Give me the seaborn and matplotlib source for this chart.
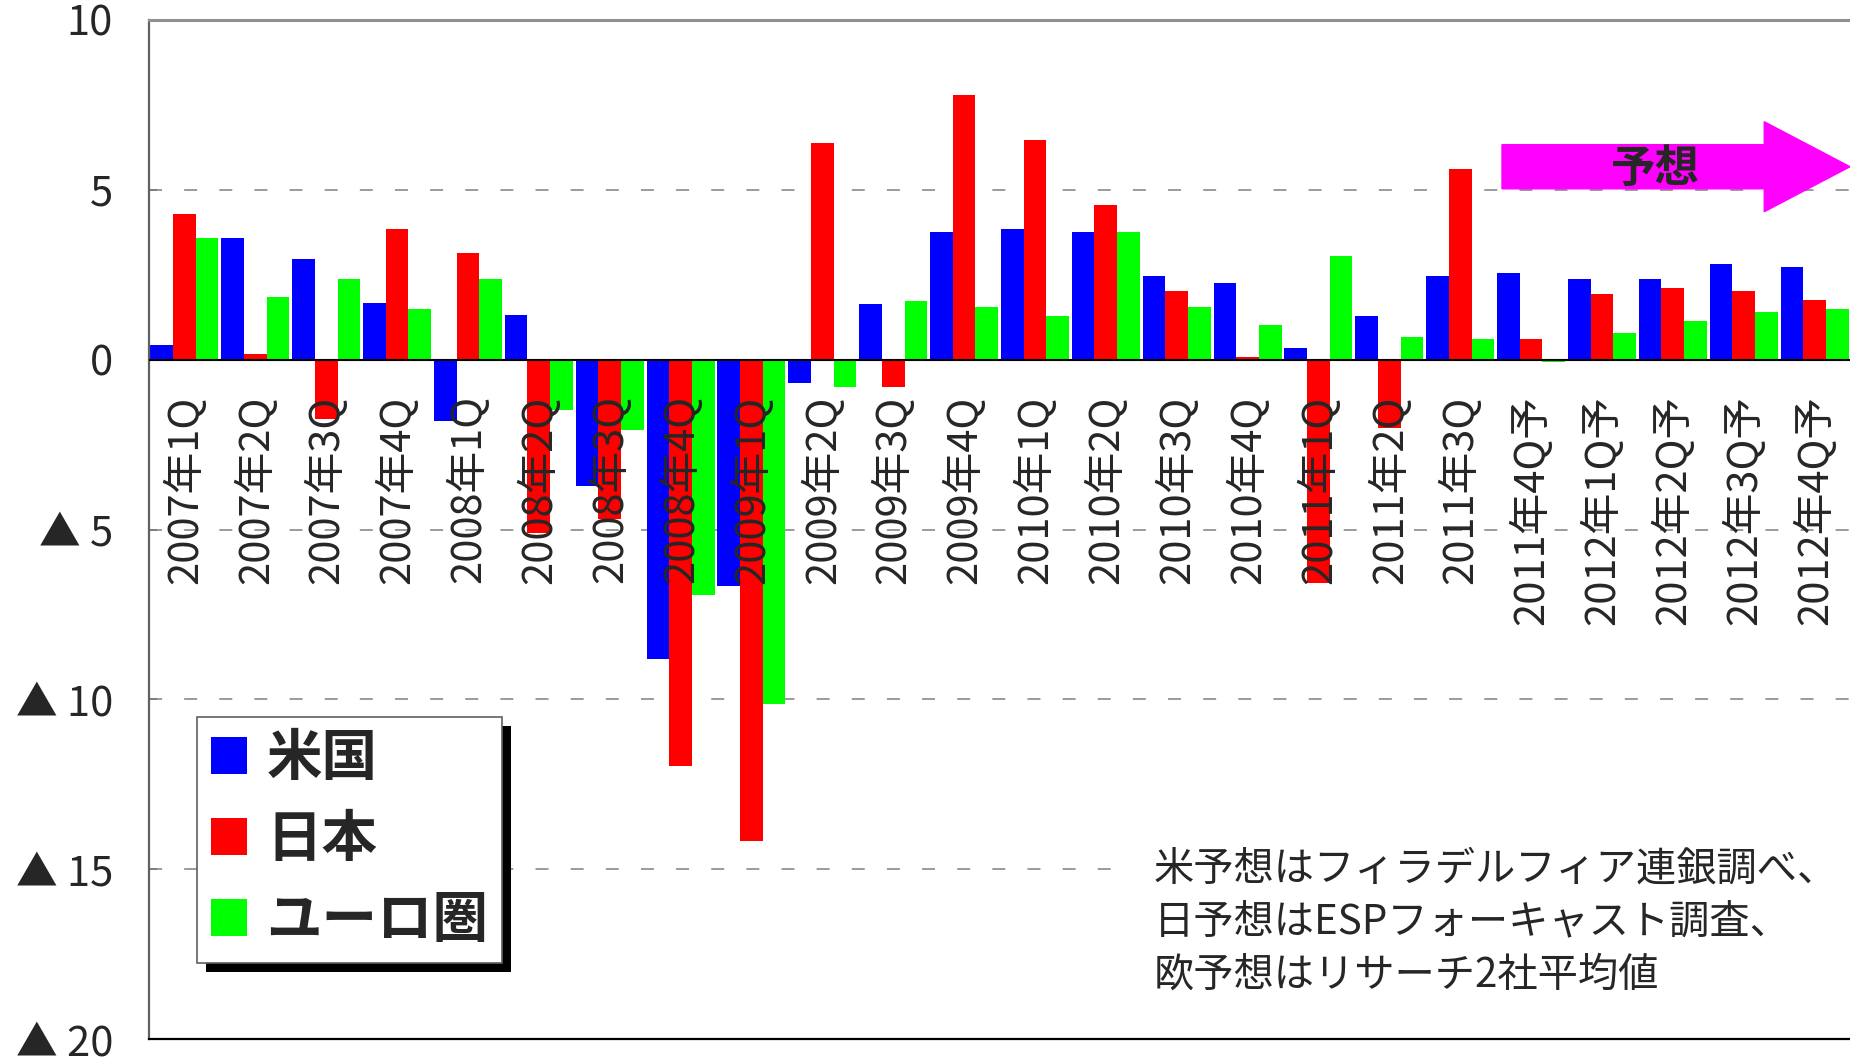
import matplotlib
matplotlib.use('Agg')
import matplotlib.pyplot as plt
import seaborn as sns
import pandas as pd
from matplotlib.patches import Patch, Rectangle, FancyArrow
from matplotlib.transforms import IdentityTransform

categories = ['2007年1Q', '2007年2Q', '2007年3Q', '2007年4Q',
              '2008年1Q', '2008年2Q', '2008年3Q', '2008年4Q',
              '2009年1Q', '2009年2Q', '2009年3Q', '2009年4Q',
              '2010年1Q', '2010年2Q', '2010年3Q', '2010年4Q',
              '2011年1Q', '2011年2Q', '2011年3Q', '2011年4Q予',
              '2012年1Q予', '2012年2Q予', '2012年3Q予', '2012年4Q予']
us = [0.42, 3.59, 2.97, 1.67, -1.82, 1.31, -3.71, -8.82, -6.66, -0.70, 1.65, 3.75,
      3.84, 3.75, 2.45, 2.27, 0.34, 1.30, 2.46, 2.55, 2.37, 2.37, 2.81, 2.73]
jp = [4.30, 0.16, -1.75, 3.86, 3.14, -5.10, -4.68, -11.95, -14.18, 6.38, -0.79, 7.80,
      6.47, 4.55, 2.01, 0.09, -6.57, -2.00, 5.62, 0.60, 1.93, 2.11, 2.02, 1.75]
eu = [3.59, 1.84, 2.38, 1.49, 2.38, -1.48, -2.08, -6.94, -10.14, -0.79, 1.74, 1.56,
      1.30, 3.75, 1.56, 1.03, 3.04, 0.68, 0.60, -0.07, 0.78, 1.13, 1.40, 1.49]
series = ['米国', '日本', 'ユーロ圏']
colors = ['#0000FF', '#FF0000', '#00FF00']
yticks = [10, 5, 0, -5, -10, -15, -20]
yticklabels = ['10', '5', '0', '▲ 5', '▲ 10', '▲ 15', '▲ 20']
note_text = '米予想はフィラデルフィア連銀調べ、\n日予想はESPフォーキャスト調査、\n欧予想はリサーチ2社平均値'
forecast_label = '予想'

sns.set_theme(style='white')
plt.rcParams['font.family'] = ['Noto Sans CJK JP', 'DejaVu Sans']

df = pd.DataFrame({
    'cat': categories * 3,
    'region': [series[0]] * len(categories) + [series[1]] * len(categories) + [series[2]] * len(categories),
    'value': us + jp + eu,
})

W, H = 1850, 1063
fig = plt.figure(figsize=(W / 100, H / 100), dpi=100)
ax = fig.add_axes([149 / W, (H - 1039) / H, 1 - 149 / W, (1039 - 20) / H])

sns.barplot(data=df, x='cat', y='value', hue='region', order=categories,
            hue_order=series, palette=colors, width=0.96, saturation=1,
            linewidth=0, legend=False, ax=ax, zorder=2, errorbar=None)

ax.set_xlim(-0.5, len(categories) - 0.5)
ax.set_ylim(-20, 10)
ax.set_xlabel('')
ax.set_ylabel('')
ax.tick_params(axis='x', bottom=False, labelbottom=False)

for yv in [5, -5, -10, -15]:
    ax.axhline(yv, color='#808080', lw=1.1, ls=(0, (8.5, 14.5)), zorder=1)
ax.axhline(0, color='black', lw=1.5, zorder=3)

ax.spines['right'].set_visible(False)
ax.spines['top'].set_color('#909090')
ax.spines['top'].set_linewidth(2.2)
ax.spines['left'].set_color('#606060')
ax.spines['left'].set_linewidth(1.6)
ax.spines['bottom'].set_color('black')
ax.spines['bottom'].set_linewidth(1.6)

ax.set_yticks(yticks)
ax.set_yticklabels(yticklabels, fontsize=30)
ax.tick_params(axis='y', direction='in', length=6, color='#606060', pad=26, left=True)

for i, c in enumerate(categories):
    ax.text(i, -1.05, c, rotation=90, ha='center', va='top', fontsize=30, zorder=4)

# forecast arrow
arrow = FancyArrow(18.59, 5.68, len(categories) - 0.5 - 18.59, 0, width=1.3,
                   head_width=2.65, head_length=1.21, length_includes_head=True,
                   color='#FF00FF', zorder=3, clip_on=False)
ax.add_patch(arrow)
ax.text(20.75, 5.62, forecast_label, fontsize=32, fontweight='bold',
        ha='center', va='center', zorder=4)

# note
ax.text(13.68, -16.55, note_text, fontsize=29, ha='left', va='center',
        linespacing=1.38, zorder=4,
        bbox=dict(facecolor='white', edgecolor='none', pad=19))

# legend
handles = [Patch(facecolor=c, edgecolor='none') for c in colors]
leg = ax.legend(handles, series, loc='upper left',
                bbox_to_anchor=(197 / W, 1 - 717 / H), bbox_transform=fig.transFigure,
                borderaxespad=0, prop={'weight': 'bold', 'size': 40},
                frameon=True, fancybox=False, edgecolor='#606060', framealpha=1,
                handlelength=0.65, handleheight=0.65, handletextpad=0.35,
                labelspacing=0.45, borderpad=0.25)
leg.get_frame().set_linewidth(1.2)
leg.set_zorder(6)

fig.canvas.draw()
bb = leg.get_window_extent()
shadow = Rectangle((bb.x0 + 9, bb.y0 - 9), bb.width, bb.height,
                   transform=IdentityTransform(), facecolor='black',
                   edgecolor='none', zorder=5.5, clip_on=False)
ax.add_artist(shadow)

fig.savefig('out.png', dpi=100)
